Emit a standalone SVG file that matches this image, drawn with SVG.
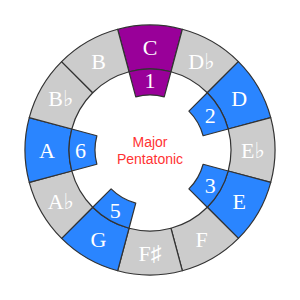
<svg xmlns="http://www.w3.org/2000/svg" width="300" height="300" viewBox="0 0 300 300">
<style>
.seg{stroke:#333;stroke-width:1.2;stroke-linejoin:round}
.g{fill:#cccccc}
.b{fill:#2a85ff}
.p{fill:#990099}
.t{font-family:"Liberation Serif","DejaVu Serif",serif;font-size:22px;fill:#ffffff;text-anchor:middle}
.c{font-family:"Liberation Sans",Arial,sans-serif;font-size:14px;fill:#ff3333;text-anchor:middle}
</style>
<rect width="300" height="300" fill="#ffffff"/>
<g id="C"><path class="seg p" d="M117.65,29.26 A125,125 0 0 1 182.35,29.26 L170.96,71.76 A81,81 0 0 0 129.04,71.76 Z"/><text class="t" x="150" y="55">C</text></g>
<g id="Db"><path class="seg g" d="M182.35,29.26 A125,125 0 0 1 238.39,61.61 L207.28,92.72 A81,81 0 0 0 170.96,71.76 Z"/><text class="t" x="201.5" y="68.6">D♭</text></g>
<g id="D"><path class="seg b" d="M238.39,61.61 A125,125 0 0 1 270.74,117.65 L228.24,129.04 A81,81 0 0 0 207.28,92.72 Z"/><text class="t" x="239.2" y="106.3">D</text></g>
<g id="Eb"><path class="seg g" d="M270.74,117.65 A125,125 0 0 1 270.74,182.35 L228.24,170.96 A81,81 0 0 0 228.24,129.04 Z"/><text class="t" x="253" y="157.8">E♭</text></g>
<g id="E"><path class="seg b" d="M270.74,182.35 A125,125 0 0 1 238.39,238.39 L207.28,207.28 A81,81 0 0 0 228.24,170.96 Z"/><text class="t" x="239.2" y="209.3">E</text></g>
<g id="F"><path class="seg g" d="M238.39,238.39 A125,125 0 0 1 182.35,270.74 L170.96,228.24 A81,81 0 0 0 207.28,207.28 Z"/><text class="t" x="201.5" y="247">F</text></g>
<g id="Fs"><path class="seg g" d="M182.35,270.74 A125,125 0 0 1 117.65,270.74 L129.04,228.24 A81,81 0 0 0 170.96,228.24 Z"/><text class="t" x="150" y="261">F♯</text></g>
<g id="G"><path class="seg b" d="M117.65,270.74 A125,125 0 0 1 61.61,238.39 L92.72,207.28 A81,81 0 0 0 129.04,228.24 Z"/><text class="t" x="98.5" y="247">G</text></g>
<g id="Ab"><path class="seg g" d="M61.61,238.39 A125,125 0 0 1 29.26,182.35 L71.76,170.96 A81,81 0 0 0 92.72,207.28 Z"/><text class="t" x="60.8" y="209.3">A♭</text></g>
<g id="A"><path class="seg b" d="M29.26,182.35 A125,125 0 0 1 29.26,117.65 L71.76,129.04 A81,81 0 0 0 71.76,170.96 Z"/><text class="t" x="47" y="157.8">A</text></g>
<g id="Bb"><path class="seg g" d="M29.26,117.65 A125,125 0 0 1 61.61,61.61 L92.72,92.72 A81,81 0 0 0 71.76,129.04 Z"/><text class="t" x="60.8" y="106.3">B♭</text></g>
<g id="B"><path class="seg g" d="M61.61,61.61 A125,125 0 0 1 117.65,29.26 L129.04,71.76 A81,81 0 0 0 92.72,92.72 Z"/><text class="t" x="98.5" y="68.6">B</text></g>
<g id="deg1"><path class="seg p" d="M129.04,71.76 A81,81 0 0 1 170.96,71.76 L164.24,96.87 A55,55 0 0 0 135.76,96.87 Z"/><text class="t" x="150" y="88.3">1</text></g>
<g id="deg2"><path class="seg b" d="M207.28,92.72 A81,81 0 0 1 228.24,129.04 L203.13,135.76 A55,55 0 0 0 188.89,111.11 Z"/><text class="t" x="210.2" y="123">2</text></g>
<g id="deg3"><path class="seg b" d="M228.24,170.96 A81,81 0 0 1 207.28,207.28 L188.89,188.89 A55,55 0 0 0 203.13,164.24 Z"/><text class="t" x="210.2" y="192.5">3</text></g>
<g id="deg5"><path class="seg b" d="M129.04,228.24 A81,81 0 0 1 92.72,207.28 L111.11,188.89 A55,55 0 0 0 135.76,203.13 Z"/><text class="t" x="115.3" y="218">5</text></g>
<g id="deg6"><path class="seg b" d="M71.76,170.96 A81,81 0 0 1 71.76,129.04 L96.87,135.76 A55,55 0 0 0 96.87,164.24 Z"/><text class="t" x="80.5" y="157.8">6</text></g>
<g id="title"><text class="c" x="150" y="146.5">Major</text><text class="c" x="150" y="164">Pentatonic</text></g>
<g id="connectors"/>
</svg>
